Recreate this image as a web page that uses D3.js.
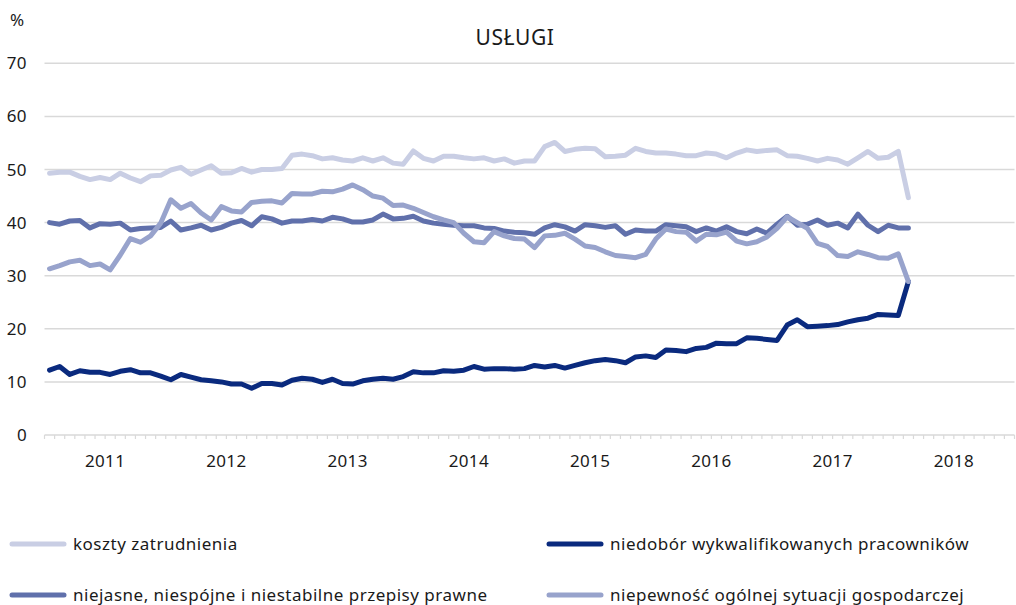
<!DOCTYPE html>
<html><head><meta charset="utf-8">
<script src="https://cdn.jsdelivr.net/npm/d3@7"></script>
<style>
html,body{margin:0;padding:0;background:#fff;}
svg text{font-family:"Noto Sans","Open Sans",sans-serif;fill:#1a1a1a;}
</style></head>
<body><svg id="c" width="1016" height="605"></svg>
<script>
const title = "USŁUGI";
const unit = "%";
const startYear = 2011;          // first month: January 2011
const yearLabels = ["2011","2012","2013","2014","2015","2016","2017","2018"];
const yTicks = [0,10,20,30,40,50,60,70];

const kosztyZatrudnienia = [49.3,49.5,49.5,48.7,48.1,48.5,48.1,49.3,48.4,47.7,48.8,48.9,49.9,50.4,49.1,49.9,50.7,49.3,49.4,50.2,
 49.5,50.0,50.0,50.2,52.7,52.9,52.6,52.0,52.2,51.8,51.6,52.2,51.6,52.2,51.2,51.0,53.5,52.1,51.6,52.5,
 52.5,52.2,52.0,52.2,51.6,52.0,51.2,51.6,51.6,54.3,55.1,53.4,53.8,54.0,53.9,52.4,52.5,52.7,54.0,53.4,
 53.1,53.1,52.9,52.6,52.6,53.1,52.9,52.2,53.1,53.7,53.4,53.6,53.7,52.6,52.5,52.1,51.6,52.1,51.8,51.0,
 52.2,53.4,52.1,52.3,53.4,44.7];
const niedoborPracownikow = [12.2,12.9,11.4,12.1,11.8,11.8,11.4,12.0,12.3,11.7,11.7,11.1,10.4,11.4,10.9,10.4,10.2,10.0,9.6,9.6,
 8.8,9.7,9.7,9.4,10.3,10.7,10.5,9.9,10.5,9.7,9.6,10.2,10.5,10.7,10.5,11.0,11.9,11.7,11.7,12.1,
 12.0,12.2,12.9,12.4,12.5,12.5,12.4,12.5,13.1,12.8,13.1,12.6,13.1,13.6,14.0,14.2,14.0,13.6,14.7,14.9,
 14.6,16.0,15.9,15.7,16.3,16.5,17.3,17.2,17.2,18.3,18.2,18.0,17.8,20.7,21.7,20.4,20.5,20.6,20.8,21.3,
 21.7,22.0,22.7,22.6,22.5,28.9];
const niejasnePrzepisy = [40.0,39.7,40.3,40.4,39.0,39.8,39.7,39.9,38.6,38.9,39.0,39.1,40.3,38.6,39.0,39.5,38.6,39.1,39.9,40.4,
 39.4,41.1,40.7,39.9,40.3,40.3,40.6,40.3,41.0,40.7,40.1,40.1,40.5,41.6,40.7,40.8,41.2,40.3,39.9,39.7,
 39.5,39.4,39.4,39.0,38.9,38.4,38.2,38.1,37.8,39.0,39.6,39.2,38.4,39.6,39.4,39.1,39.4,37.8,38.6,38.4,
 38.4,39.6,39.4,39.2,38.3,39.0,38.4,39.2,38.3,37.9,38.8,38.0,39.7,41.2,39.5,39.7,40.5,39.5,39.9,39.0,
 41.6,39.5,38.3,39.5,39.0,39.0];
const niepewnoscSytuacji = [31.3,31.9,32.6,32.9,31.9,32.2,31.1,33.9,37.0,36.3,37.5,39.9,44.3,42.7,43.6,41.8,40.5,43.0,42.2,42.0,
 43.8,44.0,44.1,43.7,45.5,45.4,45.4,45.9,45.8,46.3,47.1,46.2,45.0,44.6,43.2,43.3,42.7,41.9,41.1,40.5,
 40.0,38.0,36.4,36.2,38.3,37.5,37.0,36.9,35.3,37.5,37.6,38.0,36.9,35.6,35.3,34.5,33.8,33.6,33.4,34.0,
 36.9,38.8,38.3,38.2,36.5,37.8,37.7,38.2,36.5,36.0,36.4,37.3,38.9,41.1,40.0,38.9,36.1,35.5,33.8,33.6,
 34.5,34.0,33.4,33.3,34.1,28.9];

const seriesNames = ["koszty zatrudnienia","niedobór wykwalifikowanych pracowników",
  "niejasne, niespójne i niestabilne przepisy prawne","niepewność ogólnej sytuacji gospodarczej"];
const seriesColors = ["#c9cee4","#0a2a7e","#6070ab","#98a3cc"];
const seriesData = [kosztyZatrudnienia, niedoborPracownikow, niejasnePrzepisy, niepewnoscSytuacji];

const svg = d3.select("#c");
const nMonths = yearLabels.length*12;
const x = d3.scaleLinear().domain([0,nMonths]).range([44.5,1014.5]);
const y = d3.scaleLinear().domain([0,70]).range([435,63.3]);

// gridlines
svg.append("g").selectAll("line").data(yTicks.filter(d=>d>0)).join("line")
  .attr("x1",x(0)).attr("x2",x(nMonths)).attr("y1",d=>y(d)).attr("y2",d=>y(d))
  .attr("stroke","#d9d9d9").attr("stroke-width",1.5);

// y labels
svg.append("g").selectAll("text").data(yTicks).join("text")
  .attr("x",27).attr("y",d=>y(d)+6).attr("text-anchor","end")
  .attr("font-size",17).attr("letter-spacing",0.4).text(d=>d);

svg.append("text").attr("x",10).attr("y",26).attr("font-size",17).text(unit);
svg.append("text").attr("x",515).attr("y",45).attr("text-anchor","middle")
  .attr("font-size",21).attr("letter-spacing",0.6).text(title);

// x axis line + monthly ticks
svg.append("line").attr("x1",x(0)).attr("x2",x(nMonths)).attr("y1",y(0)).attr("y2",y(0))
  .attr("stroke","#d9d9d9").attr("stroke-width",1.5);
svg.append("g").selectAll("line").data(d3.range(nMonths+1)).join("line")
  .attr("x1",d=>x(d)).attr("x2",d=>x(d)).attr("y1",y(0)).attr("y2",y(0)+4)
  .attr("stroke","#d9d9d9").attr("stroke-width",1.2);
svg.append("g").selectAll("text").data(yearLabels).join("text")
  .attr("x",(d,i)=>x(i*12+6)).attr("y",467).attr("text-anchor","middle")
  .attr("font-size",17).attr("letter-spacing",0.4).text(d=>d);

// lines
const line = d3.line().x((d,i)=>x(i+0.5)).y(d=>y(d));
svg.append("g").selectAll("path").data(seriesData).join("path")
  .attr("d",d=>line(d)).attr("fill","none")
  .attr("stroke",(d,i)=>seriesColors[i]).attr("stroke-width",5)
  .attr("stroke-linejoin","round").attr("stroke-linecap","round");

// legend
const legPos = [[10,544],[547,544],[10,595],[547,595]];
const lg = svg.append("g").selectAll("g").data(seriesNames).join("g")
  .attr("transform",(d,i)=>`translate(${legPos[i][0]},${legPos[i][1]})`);
lg.append("line").attr("x1",2).attr("x2",54).attr("y1",0).attr("y2",0)
  .attr("stroke",(d,i)=>seriesColors[i]).attr("stroke-width",5).attr("stroke-linecap","round");
lg.append("text").attr("x",63).attr("y",6).attr("font-size",17).attr("letter-spacing",0.5).text(d=>d);
</script></body></html>
